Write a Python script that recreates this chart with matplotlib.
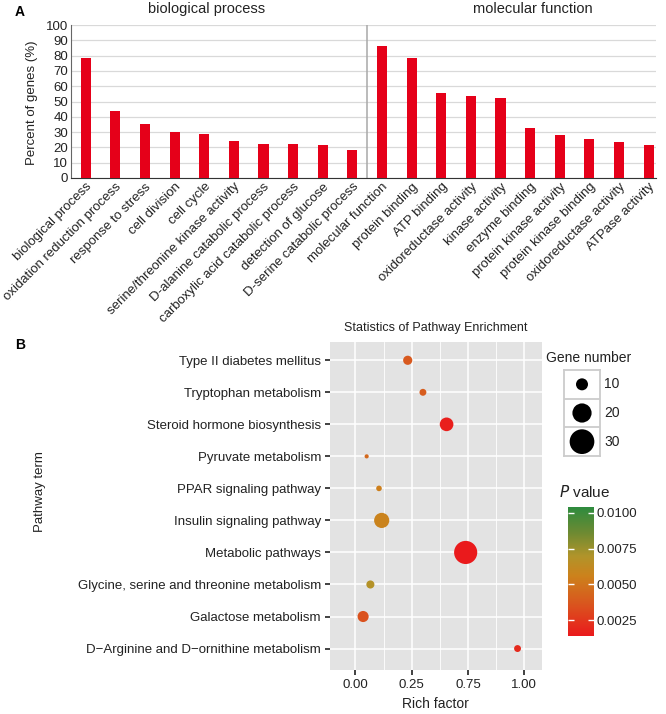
import numpy as np
import matplotlib
matplotlib.use("Agg")
import matplotlib.pyplot as plt
from matplotlib.colors import LinearSegmentedColormap, Normalize
from matplotlib.ticker import AutoMinorLocator
import matplotlib.transforms as mtrans

plt.rcParams['font.family'] = ['Liberation Sans', 'DejaVu Sans']

# ---- panel A data
bp_terms = ["biological process", "oxidation reduction process", "response to stress",
            "cell division", "cell cycle", "serine/threonine kinase activity",
            "D-alanine catabolic process", "carboxylic acid catabolic process",
            "detection of glucose", "D-serine catabolic process"]
bp_pct = [78.4, 43.5, 35.2, 30.2, 28.5, 24.1, 22.4, 22.4, 21.3, 18.6]
mf_terms = ["molecular function", "protein binding", "ATP binding", "oxidoreductase activity",
            "kinase activity", "enzyme binding", "protein kinase activity",
            "protein kinase binding", "oxidoreductase activity", "ATPase activity"]
mf_pct = [86.0, 78.2, 55.4, 53.7, 52.0, 32.7, 28.1, 25.5, 23.8, 21.6]
pct_ticks = list(range(0, 101, 10))

# ---- panel B data
pathways = ["Type II diabetes mellitus", "Tryptophan metabolism", "Steroid hormone biosynthesis",
            "Pyruvate metabolism", "PPAR signaling pathway", "Insulin signaling pathway",
            "Metabolic pathways", "Glycine, serine and threonine metabolism",
            "Galactose metabolism", "D\u2212Arginine and D\u2212ornithine metabolism"]
rich_factor = [0.31, 0.40, 0.54, 0.067, 0.14, 0.156, 0.653, 0.089, 0.046, 0.96]
gene_number = [7, 5, 12, 3, 4, 14, 27, 6, 9, 5]
p_value = [0.0038, 0.0040, 0.0016, 0.0045, 0.0055, 0.0057, 0.0014, 0.0068, 0.0035, 0.0020]
rich_ticks = [0, 1/3, 2/3, 1]
rich_ticklabels = ["0.00", "0.25", "0.75", "1.00"]
size_legend = [10, 20, 30]
p_ticks = [0.0025, 0.005, 0.0075, 0.01]
p_range = (0.0014, 0.0104)


def dot_area(v):
    # diameter in px -> marker area in pt^2
    d = -5.35 + 5.486 * np.sqrt(np.asarray(v, dtype=float))
    return (np.maximum(d, 1) * 0.72) ** 2


W, H = 666, 714
fig = plt.figure(figsize=(W / 100, H / 100), dpi=100)

def box(l, t, r, b):
    return [l / W, 1 - b / H, (r - l) / W, (b - t) / H]

# ================= panel A
axA = fig.add_axes(box(71, 25, 656, 178))
terms = bp_terms + mf_terms
x = np.arange(len(terms))
axA.bar(x, bp_pct + mf_pct, width=0.34, color='#E50019', zorder=3)
axA.set_xlim(-0.5, 19.25)
axA.set_ylim(0, 100)
axA.set_yticks(pct_ticks)
axA.yaxis.grid(True, color='#D9D9D9', lw=0.9)
axA.set_axisbelow(True)
axA.axvline(len(bp_terms) - 0.5, color='#A8A8A8', lw=1.1, zorder=2)
for s in ['top', 'right']:
    axA.spines[s].set_visible(False)
axA.spines['left'].set_color('#666666')
axA.spines['bottom'].set_color('#333333')
axA.tick_params(axis='y', length=0, pad=2, labelsize=9.5, colors='#222222')
axA.tick_params(axis='x', length=0, pad=2)
axA.set_xticks(x)
axA.set_xticklabels(terms, rotation=45, ha='right', va='top', rotation_mode='anchor',
                    fontsize=9.5, color='#222222')
axA.set_ylabel("Percent of genes (%)", fontsize=9.5, color='#222222')
axA.yaxis.set_label_coords(-0.056, 0.49)
fig.text(207 / W, 1 - 9 / H, "biological process", ha='center', va='center', fontsize=10.5, color='#222222')
fig.text(533 / W, 1 - 9 / H, "molecular function", ha='center', va='center', fontsize=10.5, color='#222222')
fig.text(20 / W, 1 - 12 / H, "A", ha='center', va='center', fontsize=10, weight='bold')

# ================= panel B
axB = fig.add_axes(box(330, 341.7, 541.7, 670))
ypos = np.arange(len(pathways))[::-1] + 1
cmap = LinearSegmentedColormap.from_list('pv', [(0, '#EA1A1C'), (0.25, '#D9561E'), (0.47, '#CC821C'),
                                                (0.62, '#B0942A'), (0.8, '#6E8A32'), (1, '#2E8B3E')])
norm = Normalize(*p_range)
sc = axB.scatter(rich_factor, ypos, s=dot_area(gene_number), c=p_value, cmap=cmap, norm=norm,
                 linewidths=0, zorder=3)
axB.set_facecolor('#E3E3E3')
axB.set_xlim(-0.15, 1.103)
axB.set_ylim(0.33, 10.58)
axB.set_xticks(rich_ticks)
axB.set_xticklabels(rich_ticklabels)
axB.xaxis.set_minor_locator(AutoMinorLocator(2))
axB.set_yticks(ypos)
axB.set_yticklabels(pathways)
axB.grid(True, which='major', color='white', lw=1.1)
axB.grid(True, which='minor', axis='x', color='white', lw=0.6)
axB.set_axisbelow(True)
for s in axB.spines.values():
    s.set_visible(False)
axB.tick_params(which='major', length=3.5, width=1.3, color='#333333', labelsize=9.5,
                labelcolor='#222222', pad=3)
axB.tick_params(which='minor', length=0)
axB.set_title("Statistics of Pathway Enrichment", fontsize=9, color='#222222', pad=8)
axB.set_xlabel("Rich factor", fontsize=10, color='#222222', labelpad=4)
fig.text(40 / W, 1 - 492 / H, "Pathway term", rotation=90, ha='center', va='center', fontsize=9.5, color='#222222')
fig.text(20 / W, 1 - 345 / H, "B", ha='center', va='center', fontsize=10, weight='bold')

# size legend
axL = fig.add_axes(box(564, 370, 600, 456))
axL.set_xlim(0, 1)
axL.set_ylim(0, len(size_legend))
ly = np.arange(len(size_legend))[::-1] + 0.5
axL.scatter([0.5] * len(size_legend), ly, s=dot_area(size_legend), c='black', linewidths=0)
for yy in range(1, len(size_legend)):
    axL.axhline(yy, color='#CCCCCC', lw=1.3)
for s in axL.spines.values():
    s.set_color('#CCCCCC')
    s.set_linewidth(1.3)
axL.set_xticks([])
axL.set_yticks([])
for v, yy in zip(size_legend, ly):
    axL.text(1.12, yy, str(v), ha='left', va='center', fontsize=10, color='#222222', clip_on=False)
fig.text(546 / W, 1 - 358 / H, "Gene number", ha='left', va='center', fontsize=10, color='#222222')

# colour bar
cax = fig.add_axes(box(568, 507, 594, 636))
cb = fig.colorbar(sc, cax=cax, ticks=p_ticks)
cb.outline.set_visible(False)
cb.ax.set_yticklabels(["%.4f" % t for t in p_ticks])
cax.yaxis.set_ticks_position('both')
cax.tick_params(direction='in', color='white', length=4, width=1, labelsize=9.5,
                labelcolor='#222222', pad=2, labelleft=False, labelright=True)
fig.text(559 / W, 1 - 492 / H, "$\\it{P}$ value", ha='left', va='center', fontsize=11, color='#222222')

fig.savefig("out.png", dpi=100)
